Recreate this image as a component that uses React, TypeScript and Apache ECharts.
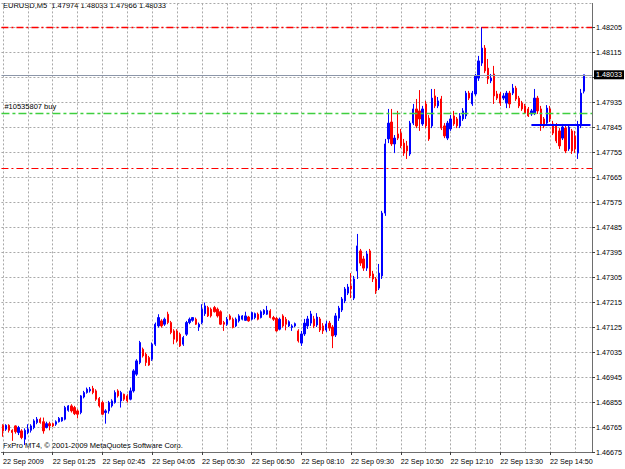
import React, { useEffect, useRef } from "react";
import * as echarts from "echarts";

const SYMBOL_TITLE = "EURUSD,M5  1.47974 1.48033 1.47966 1.48033";
const COPYRIGHT = "FxPro MT4, \u00a9 2001-2009 MetaQuotes Software Corp.";
const TIME_LABELS = [
  "22 Sep 2009", "22 Sep 01:25", "22 Sep 02:45", "22 Sep 04:05", "22 Sep 05:30", "22 Sep 06:50",
  "22 Sep 08:10", "22 Sep 09:30", "22 Sep 10:50", "22 Sep 12:10", "22 Sep 13:30", "22 Sep 14:50",
];
const BARS_PER_LABEL = 16;
const BARS_PER_GRID = 8;
const EMPTY_SLOTS_RIGHT = 2;

const OPEN = [
  1.46771, 1.46757, 1.46771, 1.46753, 1.46769, 1.46745, 1.46751, 1.46721, 1.46745, 1.46753,
  1.46763, 1.46781, 1.46793, 1.46784, 1.46763, 1.46777, 1.46777, 1.46775, 1.46784, 1.46787,
  1.46793, 1.46825, 1.46841, 1.46835, 1.46823, 1.46817, 1.46873, 1.46889, 1.46895, 1.46904,
  1.46895, 1.46868, 1.46853, 1.46817, 1.46823, 1.46841, 1.46853, 1.46895, 1.46859, 1.46883,
  1.46877, 1.46865, 1.46895, 1.46955, 1.46997, 1.47045, 1.47027, 1.47015, 1.47009, 1.47063,
  1.47129, 1.47147, 1.47135, 1.47171, 1.47141, 1.47111, 1.47111, 1.47099, 1.47063, 1.47099,
  1.47141, 1.47149, 1.47153, 1.47125, 1.47141, 1.47173, 1.47195, 1.47189, 1.47195, 1.47189,
  1.47180, 1.47141, 1.47135, 1.47165, 1.47153, 1.47129, 1.47147, 1.47153, 1.47149, 1.47161,
  1.47153, 1.47159, 1.47171, 1.47159, 1.47173, 1.47171, 1.47183, 1.47159, 1.47156, 1.47117,
  1.47165, 1.47153, 1.47129, 1.47123, 1.47129, 1.47111, 1.47067, 1.47100, 1.47129, 1.47139,
  1.47154, 1.47132, 1.47154, 1.47129, 1.47114, 1.47139, 1.47125, 1.47096, 1.47157, 1.47186,
  1.47219, 1.47247, 1.47273, 1.47229, 1.47327, 1.47399, 1.47370, 1.47337, 1.47399, 1.47316,
  1.47298, 1.47265, 1.47309, 1.47535, 1.47802, 1.47863, 1.47784, 1.47820, 1.47823, 1.47787,
  1.47777, 1.47748, 1.47859, 1.47910, 1.47903, 1.47856, 1.47928, 1.47877, 1.47849, 1.47957,
  1.47921, 1.47946, 1.47849, 1.47805, 1.47838, 1.47885, 1.47874, 1.47849, 1.47874, 1.47885,
  1.47967, 1.47928, 1.47964, 1.48021, 1.48075, 1.48129, 1.48057, 1.48011, 1.48036, 1.47964,
  1.47964, 1.47949, 1.47931, 1.47967, 1.47967, 1.47985, 1.47949, 1.47931, 1.47921, 1.47910,
  1.47892, 1.47895, 1.47949, 1.47910, 1.47874, 1.47859, 1.47910, 1.47856, 1.47849, 1.47831,
  1.47805, 1.47841, 1.47766, 1.47831, 1.47813, 1.47751, 1.47849, 1.47974,
];

const CLOSE = [
  1.46751, 1.46771, 1.46753, 1.46745, 1.46748, 1.46763, 1.46727, 1.46753, 1.46757, 1.46769,
  1.46787, 1.46793, 1.46781, 1.46751, 1.46777, 1.46769, 1.46769, 1.46784, 1.46796, 1.46799,
  1.46835, 1.46841, 1.46823, 1.46813, 1.46811, 1.46877, 1.46889, 1.46901, 1.46901, 1.46889,
  1.46865, 1.46841, 1.46811, 1.46823, 1.46853, 1.46859, 1.46889, 1.46877, 1.46889, 1.46865,
  1.46859, 1.46895, 1.46967, 1.47003, 1.47069, 1.47021, 1.46997, 1.46988, 1.47063, 1.47135,
  1.47159, 1.47129, 1.47153, 1.47141, 1.47105, 1.47081, 1.47075, 1.47057, 1.47087, 1.47141,
  1.47153, 1.47159, 1.47135, 1.47135, 1.47189, 1.47201, 1.47165, 1.47165, 1.47180, 1.47165,
  1.47135, 1.47135, 1.47153, 1.47153, 1.47123, 1.47153, 1.47165, 1.47165, 1.47165, 1.47147,
  1.47177, 1.47173, 1.47153, 1.47180, 1.47185, 1.47185, 1.47159, 1.47153, 1.47111, 1.47153,
  1.47129, 1.47135, 1.47144, 1.47129, 1.47137, 1.47075, 1.47100, 1.47139, 1.47154, 1.47172,
  1.47129, 1.47161, 1.47114, 1.47111, 1.47136, 1.47121, 1.47093, 1.47165, 1.47193, 1.47226,
  1.47262, 1.47269, 1.47262, 1.47298, 1.47417, 1.47355, 1.47337, 1.47388, 1.47309, 1.47298,
  1.47255, 1.47319, 1.47535, 1.47784, 1.47859, 1.47784, 1.47805, 1.47805, 1.47777, 1.47751,
  1.47759, 1.47859, 1.47910, 1.47849, 1.47874, 1.47910, 1.47849, 1.47802, 1.47949, 1.47921,
  1.47939, 1.47841, 1.47813, 1.47859, 1.47874, 1.47856, 1.47849, 1.47885, 1.47903, 1.47967,
  1.47949, 1.47967, 1.48029, 1.48083, 1.48129, 1.48047, 1.48018, 1.48021, 1.47957, 1.47949,
  1.47931, 1.47957, 1.47967, 1.47928, 1.47985, 1.47946, 1.47921, 1.47910, 1.47895, 1.47885,
  1.47903, 1.47949, 1.47903, 1.47856, 1.47849, 1.47913, 1.47874, 1.47823, 1.47795, 1.47777,
  1.47845, 1.47759, 1.47845, 1.47759, 1.47766, 1.47852, 1.47967, 1.48033,
];

const HIGH = [
  1.46775, 1.46775, 1.46775, 1.46757, 1.46771, 1.46769, 1.46757, 1.46760, 1.46775, 1.46775,
  1.46793, 1.46801, 1.46799, 1.46799, 1.46784, 1.46784, 1.46781, 1.46789, 1.46801, 1.46801,
  1.46841, 1.46844, 1.46847, 1.46841, 1.46829, 1.46880, 1.46895, 1.46907, 1.46909, 1.46913,
  1.46901, 1.46873, 1.46859, 1.46829, 1.46859, 1.46865, 1.46897, 1.46901, 1.46895, 1.46885,
  1.46883, 1.46907, 1.46973, 1.47009, 1.47075, 1.47051, 1.47033, 1.47021, 1.47069, 1.47141,
  1.47171, 1.47153, 1.47159, 1.47180, 1.47147, 1.47117, 1.47117, 1.47105, 1.47093, 1.47147,
  1.47159, 1.47161, 1.47159, 1.47141, 1.47207, 1.47213, 1.47201, 1.47195, 1.47201, 1.47195,
  1.47185, 1.47147, 1.47161, 1.47171, 1.47159, 1.47159, 1.47171, 1.47168, 1.47180, 1.47165,
  1.47180, 1.47177, 1.47177, 1.47185, 1.47189, 1.47201, 1.47189, 1.47165, 1.47161, 1.47159,
  1.47171, 1.47161, 1.47149, 1.47135, 1.47141, 1.47117, 1.47111, 1.47154, 1.47165, 1.47183,
  1.47165, 1.47175, 1.47161, 1.47139, 1.47147, 1.47147, 1.47132, 1.47175, 1.47201, 1.47233,
  1.47269, 1.47280, 1.47319, 1.47309, 1.47460, 1.47406, 1.47381, 1.47399, 1.47406, 1.47327,
  1.47305, 1.47352, 1.47543, 1.47802, 1.47910, 1.47910, 1.47816, 1.47903, 1.47838, 1.47802,
  1.47795, 1.47867, 1.47928, 1.47946, 1.47978, 1.47921, 1.47939, 1.47888, 1.47982, 1.47982,
  1.47953, 1.47957, 1.47859, 1.47867, 1.47888, 1.47903, 1.47881, 1.47895, 1.47913, 1.47975,
  1.47975, 1.47975, 1.48036, 1.48101, 1.48205, 1.48140, 1.48090, 1.48036, 1.48065, 1.47975,
  1.47971, 1.47967, 1.47975, 1.47975, 1.48000, 1.47993, 1.47957, 1.47939, 1.47928, 1.47917,
  1.47910, 1.47982, 1.47957, 1.47921, 1.47881, 1.47924, 1.47921, 1.47867, 1.47859, 1.47841,
  1.47856, 1.47849, 1.47852, 1.47838, 1.47831, 1.47867, 1.47982, 1.48033,
];

const LOW = [
  1.46730, 1.46751, 1.46745, 1.46715, 1.46741, 1.46736, 1.46721, 1.46700, 1.46739, 1.46745,
  1.46757, 1.46775, 1.46777, 1.46741, 1.46760, 1.46753, 1.46765, 1.46769, 1.46781, 1.46784,
  1.46789, 1.46820, 1.46817, 1.46808, 1.46796, 1.46811, 1.46868, 1.46885, 1.46889, 1.46883,
  1.46859, 1.46835, 1.46808, 1.46777, 1.46813, 1.46835, 1.46849, 1.46871, 1.46835, 1.46859,
  1.46853, 1.46861, 1.46889, 1.46949, 1.46991, 1.47015, 1.46985, 1.46985, 1.47003, 1.47057,
  1.47123, 1.47123, 1.47129, 1.47135, 1.47099, 1.47063, 1.47069, 1.47053, 1.47057, 1.47093,
  1.47135, 1.47144, 1.47132, 1.47111, 1.47135, 1.47165, 1.47161, 1.47159, 1.47177, 1.47159,
  1.47132, 1.47111, 1.47129, 1.47149, 1.47120, 1.47125, 1.47141, 1.47149, 1.47147, 1.47144,
  1.47149, 1.47153, 1.47149, 1.47156, 1.47168, 1.47168, 1.47156, 1.47147, 1.47108, 1.47113,
  1.47123, 1.47113, 1.47125, 1.47111, 1.47125, 1.47069, 1.47057, 1.47093, 1.47118, 1.47129,
  1.47121, 1.47125, 1.47107, 1.47100, 1.47107, 1.47111, 1.47049, 1.47089, 1.47147, 1.47179,
  1.47211, 1.47240, 1.47229, 1.47222, 1.47298, 1.47345, 1.47327, 1.47327, 1.47301, 1.47287,
  1.47244, 1.47258, 1.47298, 1.47525, 1.47787, 1.47777, 1.47751, 1.47798, 1.47769, 1.47741,
  1.47730, 1.47741, 1.47852, 1.47841, 1.47831, 1.47849, 1.47841, 1.47795, 1.47841, 1.47913,
  1.47913, 1.47834, 1.47805, 1.47798, 1.47831, 1.47849, 1.47841, 1.47841, 1.47867, 1.47874,
  1.47942, 1.47921, 1.47957, 1.48011, 1.48065, 1.48039, 1.48000, 1.48003, 1.47928, 1.47942,
  1.47921, 1.47942, 1.47913, 1.47913, 1.47960, 1.47939, 1.47913, 1.47903, 1.47892, 1.47881,
  1.47885, 1.47888, 1.47892, 1.47831, 1.47841, 1.47852, 1.47863, 1.47816, 1.47787, 1.47766,
  1.47798, 1.47751, 1.47759, 1.47748, 1.47751, 1.47730, 1.47841, 1.47966,
];

const Y_MIN = 1.46675;
const Y_MAX = 1.4829;
const Y_STEP = 0.0009;

const TAKE_PROFIT = 1.48205;
const STOP_LOSS = 1.47697;
const BID = 1.48033;
const ORDER_PRICE = 1.47893;
const ORDER_LABEL = "#10535807 buy";
const LEVEL_LINE = 1.47852;
const LEVEL_LINE_START = 170;

export default function App() {
  const ref = useRef<HTMLDivElement | null>(null);

  useEffect(() => {
    document.body.style.margin = "0";
    if (!ref.current) return;
    const chart = echarts.init(ref.current, undefined, { renderer: "svg" });
    const font = "Liberation Sans";
    const slots = Array.from({ length: OPEN.length + EMPTY_SLOTS_RIGHT }, (_, i) => String(i));
    const candles = OPEN.map((o, i) => [o, CLOSE[i], LOW[i], HIGH[i]]);
    const gridColor = "#a9a9a9";

    const hLine = (name: string, data: any[], lineStyle: any, label: any = { show: false }) => ({
      name,
      type: "line",
      data: [],
      silent: true,
      z: 5,
      markLine: {
        silent: true,
        precision: 5,
        symbol: ["none", "none"],
        animation: false,
        lineStyle,
        label,
        emphasis: { disabled: true },
        data,
      },
    });

    chart.setOption({
      animation: false,
      backgroundColor: "#ffffff",
      textStyle: { fontFamily: font },
      grid: { left: 0, right: 31, top: 3.4, bottom: 17 },
      xAxis: {
        type: "category",
        data: slots,
        boundaryGap: true,
        axisLine: { show: true, lineStyle: { color: "#6e6e6e", width: 1 } },
        axisTick: {
          show: true,
          alignWithLabel: true,
          length: 3,
          interval: (i: number) => i % BARS_PER_LABEL === 0 && i / BARS_PER_LABEL < TIME_LABELS.length,
          lineStyle: { color: "#404040" },
        },
        axisLabel: {
          interval: (i: number) => i % BARS_PER_LABEL === 0 && i / BARS_PER_LABEL < TIME_LABELS.length,
          formatter: (_v: string, i: number) => TIME_LABELS[i / BARS_PER_LABEL] ?? "",
          align: "left",
          fontSize: 7.2,
          color: "#000",
          margin: 6,
          fontFamily: font,
        },
        splitLine: {
          show: true,
          alignWithLabel: true,
          interval: (i: number) => i % BARS_PER_GRID === 0,
          lineStyle: { color: gridColor, type: [2, 2], width: 1 },
        },
      },
      yAxis: {
        type: "value",
        position: "right",
        min: Y_MIN,
        max: Y_MAX,
        interval: Y_STEP,
        axisLine: { show: true, lineStyle: { color: "#6e6e6e", width: 1 } },
        axisTick: { show: true, length: 3, lineStyle: { color: "#404040" } },
        axisLabel: {
          fontSize: 7.2,
          color: "#000",
          margin: 4,
          showMaxLabel: false,
          fontFamily: font,
          formatter: (v: number) => (Math.abs(v - BID) < Y_STEP / 2 ? "" : v.toFixed(5)),
        },
        splitLine: {
          show: true,
          lineStyle: { color: gridColor, type: [2, 2], width: 1 },
        },
      },
      series: [
        {
          name: "EURUSD",
          type: "candlestick",
          data: candles,
          barWidth: 1.8,
          z: 3,
          itemStyle: {
            color: "#0000ff",
            color0: "#ff0000",
            borderColor: "#0000ff",
            borderColor0: "#ff0000",
            borderWidth: 1,
          },
        },
        hLine("tp", [{ yAxis: TAKE_PROFIT }], { color: "#ff0000", type: [7, 3, 2, 3], width: 1.4 }),
        hLine("sl", [{ yAxis: STOP_LOSS }], { color: "#ff0000", type: [7, 3, 2, 3], width: 1.2 }),
        hLine("order", [{ yAxis: ORDER_PRICE }], { color: "#3fcf3f", type: [8, 3, 3, 3], width: 1.3 }, {
          show: true,
          position: "insideStartTop",
          formatter: ORDER_LABEL,
          color: "#000",
          fontSize: 7.5,
          fontFamily: font,
          distance: 3,
        }),
        hLine("bid", [{ yAxis: BID }], { color: "#8c96a8", type: "solid", width: 1 }, {
          show: true,
          position: "end",
          formatter: BID.toFixed(5),
          color: "#ffffff",
          backgroundColor: "#000000",
          padding: [1, 2, 1, 2],
          fontSize: 7.2,
          fontFamily: font,
          distance: 2,
        }),
        hLine(
          "level",
          [[{ coord: [LEVEL_LINE_START, LEVEL_LINE] }, { coord: [slots.length - 1, LEVEL_LINE] }]],
          { color: "#0000ff", type: "solid", width: 2 },
        ),
      ],
      graphic: [
        {
          type: "text",
          left: 3,
          top: 1,
          style: { text: SYMBOL_TITLE, fontSize: 7.5, fill: "#000", fontFamily: font },
        },
        {
          type: "text",
          left: 3,
          top: 441,
          style: { text: COPYRIGHT, fontSize: 7.5, fill: "#000", fontFamily: font },
        },
      ],
    });

    return () => chart.dispose();
  }, []);

  return <div ref={ref} style={{ width: 625, height: 469 }} />;
}
